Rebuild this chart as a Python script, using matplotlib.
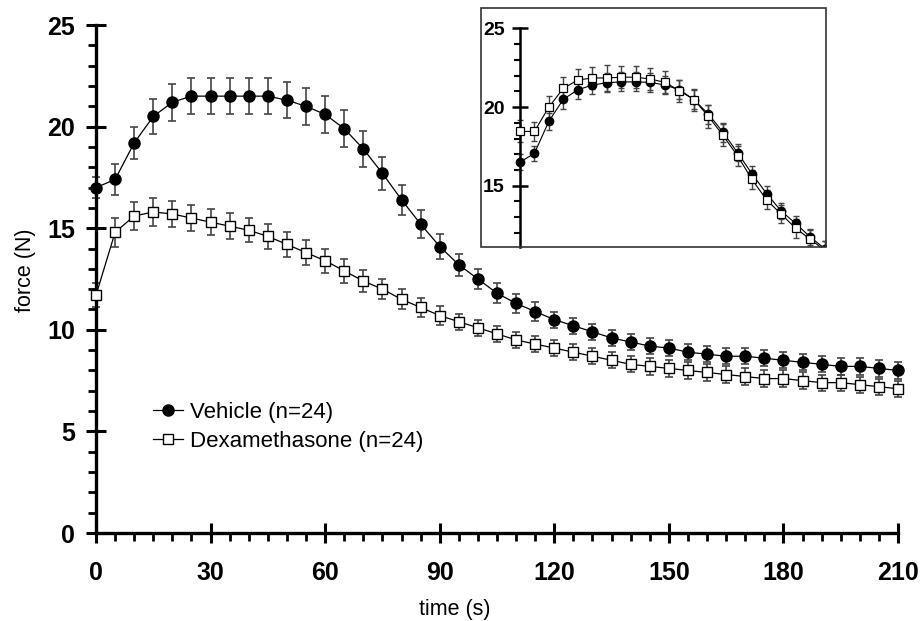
import numpy as np
import matplotlib.pyplot as plt
from matplotlib.ticker import MultipleLocator, FixedLocator
from matplotlib.patches import Rectangle

plt.rcParams['font.family'] = ['Liberation Sans', 'DejaVu Sans']

# main data, 5 s steps
t = np.arange(0, 211, 5)
veh = [17.0, 17.4, 19.2, 20.5, 21.2, 21.5, 21.5, 21.5, 21.5, 21.5, 21.3,
       21.0, 20.6, 19.9, 18.9, 17.7, 16.4, 15.2, 14.1, 13.2, 12.5, 11.8,
       11.3, 10.9, 10.5, 10.2, 9.9, 9.6, 9.4, 9.2, 9.1, 8.9, 8.8, 8.7,
       8.7, 8.6, 8.5, 8.4, 8.3, 8.2, 8.2, 8.1, 8.0]
veh_err = [0.5, 0.75, 0.8, 0.85, 0.9, 0.9, 0.9, 0.9, 0.9, 0.9, 0.9, 0.9,
           0.9, 0.9, 0.9, 0.8, 0.75, 0.7, 0.6, 0.55, 0.5, 0.5, 0.45, 0.45,
           0.4, 0.4, 0.4, 0.4, 0.4, 0.4, 0.4, 0.4, 0.4, 0.4, 0.4, 0.4, 0.4,
           0.4, 0.4, 0.4, 0.4, 0.4, 0.4]
dex = [11.7, 14.8, 15.6, 15.8, 15.7, 15.5, 15.3, 15.1, 14.9, 14.6, 14.2,
       13.8, 13.4, 12.9, 12.4, 12.0, 11.5, 11.1, 10.7, 10.4, 10.1, 9.8,
       9.5, 9.3, 9.1, 8.9, 8.7, 8.5, 8.3, 8.2, 8.1, 8.0, 7.9, 7.8, 7.7,
       7.6, 7.6, 7.5, 7.4, 7.4, 7.3, 7.2, 7.1]
dex_err = [0.6, 0.7, 0.7, 0.7, 0.65, 0.65, 0.65, 0.65, 0.6, 0.6, 0.6, 0.6,
           0.6, 0.6, 0.55, 0.5, 0.5, 0.45, 0.45, 0.4, 0.4, 0.4, 0.4, 0.4,
           0.4, 0.4, 0.4, 0.4, 0.4, 0.4, 0.4, 0.4, 0.4, 0.4, 0.4, 0.4, 0.4,
           0.4, 0.4, 0.4, 0.4, 0.4, 0.4]

# inset data
t_in = np.arange(0, 106, 5)
veh_in = [16.5, 17.05, 19.1, 20.5, 21.1, 21.4, 21.55, 21.6, 21.6, 21.57,
          21.4, 21.1, 20.47, 19.55, 18.4, 17.1, 15.75, 14.5, 13.4, 12.6,
          11.75, 11.0]
veh_in_err = [0.5, 0.5, 0.55, 0.6, 0.6, 0.6, 0.6, 0.6, 0.6, 0.6, 0.6,
              0.6, 0.6, 0.6, 0.6, 0.55, 0.5, 0.5, 0.5, 0.5, 0.5, 0.5]
dex_in = [18.45, 18.45, 20.0, 21.2, 21.72, 21.85, 21.85, 21.9, 21.9, 21.78,
          21.57, 21.04, 20.47, 19.4, 18.2, 16.9, 15.4, 14.1, 13.2, 12.3,
          11.6, 10.9]
dex_in_err = [0.7, 0.6, 0.7, 0.7, 0.7, 0.7, 0.8, 0.7, 0.7, 0.7, 0.7,
              0.7, 0.7, 0.7, 0.7, 0.65, 0.6, 0.6, 0.6, 0.6, 0.6, 0.6]
inset_minor = [12, 13, 14, 16, 17, 18, 19, 21, 22, 23, 24]

fig = plt.figure(figsize=(9.24, 6.21), dpi=100)
ax = fig.add_axes([0.1039, 0.1417, 0.868, 0.818])

eb = dict(fmt='none', ecolor='#444444', elinewidth=1.2, capsize=3,
          capthick=1.2, clip_on=False, zorder=2)
ax.errorbar(t, veh, yerr=veh_err, **eb)
ax.errorbar(t, dex, yerr=dex_err, **eb)
ax.plot(t, veh, color='black', lw=0.9, marker='o', ms=8, mfc='black',
        mec='black', clip_on=False, zorder=3, label='Vehicle (n=24)')
ax.plot(t, dex, color='black', lw=0.9, marker='s', ms=7, mfc='white',
        mec='black', mew=1.0, clip_on=False, zorder=3,
        label='Dexamethasone (n=24)')

ax.set_xlim(0, 210)
ax.set_ylim(0, 25)
ax.spines['top'].set_visible(False)
ax.spines['right'].set_visible(False)
for s in ['left', 'bottom']:
    ax.spines[s].set_linewidth(2.4)
ax.xaxis.set_major_locator(MultipleLocator(30))
ax.xaxis.set_minor_locator(MultipleLocator(5))
ax.yaxis.set_major_locator(MultipleLocator(5))
ax.yaxis.set_minor_locator(MultipleLocator(1))
ax.tick_params(which='major', direction='inout', length=14, width=2.2,
               labelsize=18)
ax.tick_params(which='minor', direction='out', length=5.5, width=2.0)
ax.tick_params(axis='x', which='major', pad=13)
ax.tick_params(axis='y', which='major', pad=8)
for lab in ax.get_xticklabels() + ax.get_yticklabels():
    lab.set_fontweight('bold')
ax.set_xlabel('time (s)', fontsize=15.5)
ax.xaxis.set_label_coords((455 - 96) / 802, -(609 - 533) / 508)
ax.xaxis.label.set_va('center')
ax.set_ylabel('force (N)', fontsize=15.5)
ax.yaxis.set_label_coords(-(96 - 25) / 802, (533 - 270) / 508)
ax.yaxis.label.set_va('center')

ax.legend(loc='upper left', bbox_to_anchor=((153 - 96) / 802, (533 - 402) / 508),
          frameon=False, fontsize=16, handlelength=1.35, handletextpad=0.3,
          labelspacing=0.35, borderpad=0, borderaxespad=0)

# inset
ai = fig.add_axes([481 / 924, 1 - 247 / 621, 345 / 924, 239 / 621])
ebi = dict(fmt='none', ecolor='#444444', elinewidth=1.0, capsize=2.5,
           capthick=1.0, zorder=2)
ai.errorbar(t_in, veh_in, yerr=veh_in_err, **ebi)
ai.errorbar(t_in, dex_in, yerr=dex_in_err, **ebi)
ai.plot(t_in, veh_in, color='black', lw=0.8, marker='o', ms=6,
        mfc='black', mec='black', zorder=3)
ai.plot(t_in, dex_in, color='black', lw=0.8, marker='s', ms=5.8,
        mfc='white', mec='black', mew=0.9, zorder=3)
ai.set_xlim(-13.4, 105.5)
ai.set_ylim(11.1, 26.3)
ai.spines['left'].set_position(('data', 0))
ai.spines['left'].set_linewidth(1.8)
ai.spines['left'].set_bounds(11.1, 25)
for s in ['top', 'right', 'bottom']:
    ai.spines[s].set_visible(False)
ai.add_patch(Rectangle((0, 0), 1, 1, transform=ai.transAxes, fill=False,
                       ec='#333333', lw=1.2, clip_on=False, zorder=5))
ai.set_xticks([])
ai.yaxis.set_major_locator(MultipleLocator(5))
ai.yaxis.set_minor_locator(FixedLocator(inset_minor))
ai.tick_params(axis='y', which='major', direction='inout', length=11,
               width=1.8, labelsize=14, pad=5.5)
ai.tick_params(axis='y', which='minor', direction='out', length=4.5, width=1.5)
for lab in ai.get_yticklabels():
    lab.set_fontweight('bold')

fig.savefig('out.png', dpi=100)
